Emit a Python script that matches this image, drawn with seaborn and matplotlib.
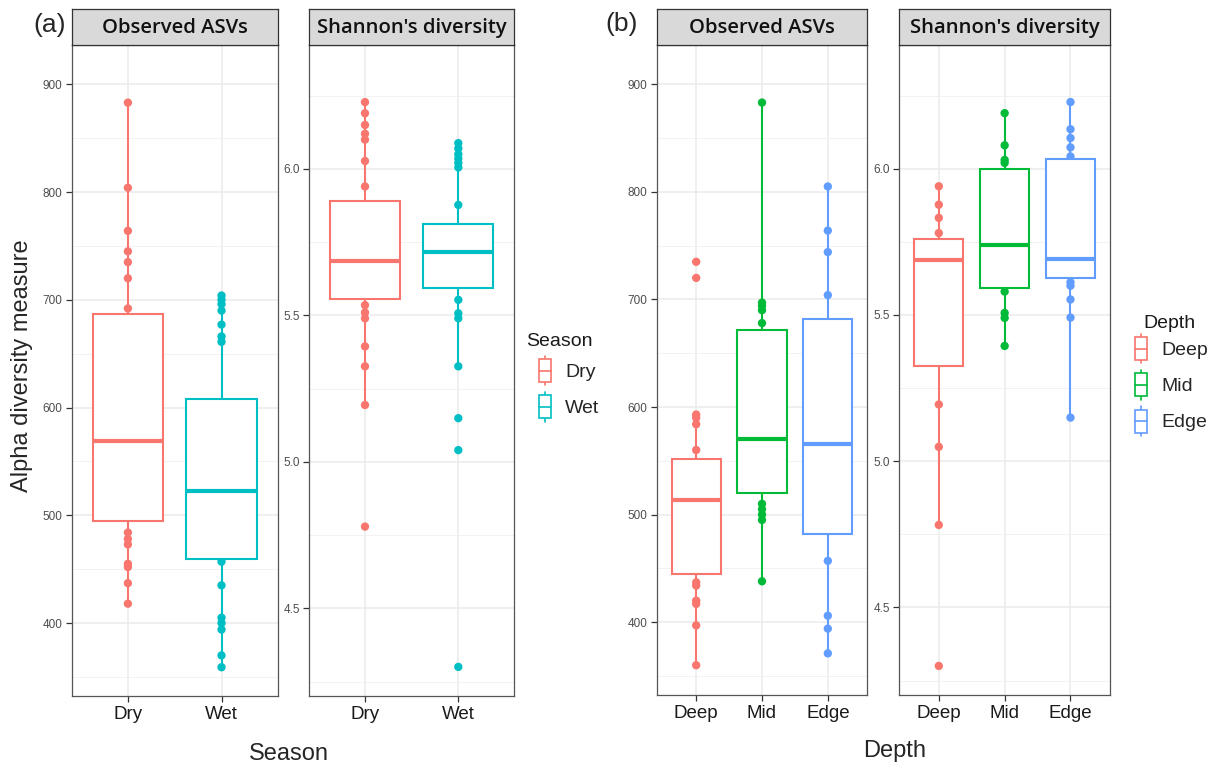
import matplotlib
matplotlib.use("Agg")
import numpy as np
import pandas as pd
import seaborn as sns
import matplotlib.pyplot as plt
from matplotlib import font_manager as fm
from matplotlib.legend_handler import HandlerBase
from matplotlib.patches import Rectangle, Patch
from matplotlib.lines import Line2D
from matplotlib.ticker import FixedLocator, FormatStrFormatter

# ---------------- data ----------------
season_levels = ["Dry", "Wet"]
depth_levels = ["Deep", "Mid", "Edge"]

observed_dry = [418, 437, 452, 455, 473, 478, 484, 506, 512, 523, 536, 548, 560, 569,
                578, 596, 615, 641, 663, 682, 692, 720, 735, 745, 764, 804, 883]
observed_wet = [359, 370, 394, 400, 405, 435, 457, 461, 472, 486, 497, 508, 517, 523,
                528, 534, 540, 545, 550, 555, 661, 666, 677, 690, 696, 700, 704]
shannon_dry = [4.779, 5.194, 5.326, 5.394, 5.49, 5.51, 5.535, 5.577, 5.59, 5.61, 5.63,
               5.65, 5.67, 5.687, 5.70, 5.72, 5.75, 5.78, 5.81, 5.842, 5.94, 6.027,
               6.10, 6.12, 6.15, 6.19, 6.228]
shannon_wet = [4.30, 5.04, 5.149, 5.326, 5.49, 5.507, 5.553, 5.637, 5.65, 5.665, 5.68,
               5.69, 5.705, 5.716, 5.72, 5.725, 5.73, 5.735, 5.74, 5.745, 5.877, 6.005,
               6.02, 6.035, 6.05, 6.07, 6.088]

observed_deep = [360, 397, 417, 420, 434, 437, 453, 465, 480, 493, 505, 514, 520, 527,
                 533, 539, 544, 560, 584, 590, 593, 720, 735]
observed_mid = [438, 495, 500, 505, 510, 530, 540, 552, 562, 570, 590, 615, 640, 666,
                678, 690, 694, 697, 883]
observed_edge = [371, 394, 406, 457, 506, 525, 548, 566, 600, 632, 660, 704, 744, 764, 805]
shannon_deep = [4.30, 4.782, 5.049, 5.194, 5.458, 5.55, 5.64, 5.689, 5.70, 5.72, 5.74,
                5.78, 5.832, 5.877, 5.94]
shannon_mid = [5.394, 5.49, 5.507, 5.58, 5.606, 5.65, 5.70, 5.738, 5.80, 5.90, 5.98,
               6.02, 6.03, 6.08, 6.19]
shannon_edge = [5.149, 5.491, 5.553, 5.60, 5.612, 5.642, 5.655, 5.668, 5.68, 5.691, 5.76,
                5.85, 5.94, 6.024, 6.042, 6.073, 6.105, 6.135, 6.228]

season_colors = ["#F8766D", "#00BFC4"]
depth_colors = ["#F8766D", "#00BA38", "#619CFF"]

observed_ticks = [400, 500, 600, 700, 800, 900]
observed_minor = [350, 450, 550, 650, 750, 850]
shannon_ticks = [4.5, 5.0, 5.5, 6.0]
shannon_minor = [4.25, 4.75, 5.25, 5.75, 6.25]

# ---------------- style ----------------
sns.set_style("white")
installed = {f.name for f in fm.fontManager.ttflist}
SANS = "Liberation Sans" if "Liberation Sans" in installed else "DejaVu Sans"
if "Liberation Sans Narrow" in installed:
    NARROW, XT_SIZE, YT_SIZE = "Liberation Sans Narrow", 15, 9.5
else:
    NARROW, XT_SIZE, YT_SIZE = SANS, 13.5, 8.5
STRIP = "Open Sans" if "Open Sans" in installed else SANS
plt.rcParams["font.family"] = [SANS, "DejaVu Sans"]

W, H = 1222, 764
fig = plt.figure(figsize=(W / 100, H / 100), dpi=100)
fig.patch.set_facecolor("white")


def rect(x0, x1, ytop, ybot):
    return [x0 / W, 1 - ybot / H, (x1 - x0) / W, (ybot - ytop) / H]


def draw_facet(ax, groups, levels, colors, ylim, major, minor, fmt):
    df = pd.DataFrame([(lvl, v) for lvl in levels for v in groups[lvl]],
                      columns=["group", "value"])
    pal = dict(zip(levels, colors))
    sns.boxplot(data=df, x="group", y="value", hue="group", order=levels,
                hue_order=levels, palette=pal, saturation=1, width=0.75, whis=1.5,
                showfliers=False, showcaps=False, linewidth=1.5, legend=False, ax=ax,
                medianprops={"linewidth": 3.0})
    for patch in ax.patches:
        fc = patch.get_facecolor()
        patch.set_edgecolor(fc)
        patch.set_facecolor("white")
        patch.set_linewidth(1.5)
        patch.set_zorder(3)
    for line in ax.lines:
        xd = np.asarray(line.get_xdata(), dtype=float)
        idx = int(round(xd.mean()))
        line.set_color(colors[idx])
        line.set_zorder(4)
    sns.stripplot(data=df, x="group", y="value", hue="group", order=levels,
                  hue_order=levels, palette=pal, jitter=False, size=6, linewidth=0,
                  legend=False, ax=ax)
    for coll in ax.collections:
        coll.set_zorder(2)

    ax.set_xlim(-0.6, len(levels) - 0.4)
    ax.set_ylim(*ylim)
    ax.yaxis.set_major_locator(FixedLocator(major))
    ax.yaxis.set_minor_locator(FixedLocator(minor))
    ax.yaxis.set_major_formatter(FormatStrFormatter(fmt))
    ax.set_xlabel("")
    ax.set_ylabel("")
    ax.set_facecolor("white")
    ax.set_axisbelow(True)
    ax.grid(True, which="major", color="#EBEBEB", linewidth=1.1)
    ax.grid(True, which="minor", axis="y", color="#F2F2F2", linewidth=0.7)
    for sp in ax.spines.values():
        sp.set_visible(True)
        sp.set_color("#555555")
        sp.set_linewidth(0.9)
    ax.tick_params(axis="y", which="major", left=True, length=4.5, width=0.9,
                   color="#333333", labelsize=YT_SIZE, labelcolor="#4D4D4D", pad=2)
    ax.tick_params(axis="x", which="major", bottom=True, length=4.5, width=0.9,
                   color="#333333", labelsize=XT_SIZE, labelcolor="#1A1A1A", pad=3)
    ax.tick_params(which="minor", length=0)
    for lab in ax.get_xticklabels() + ax.get_yticklabels():
        lab.set_fontfamily(NARROW)


def add_strip(x0, x1, label):
    s = fig.add_axes(rect(x0, x1, 9, 45))
    s.set_facecolor("#D9D9D9")
    s.set_xticks([])
    s.set_yticks([])
    for sp in s.spines.values():
        sp.set_color("#333333")
        sp.set_linewidth(0.9)
    s.text(0.5, 0.48, label, ha="center", va="center", fontsize=14.6,
           fontweight="semibold", family=[STRIP, "DejaVu Sans"], color="#111111",
           transform=s.transAxes)


class BoxKey(HandlerBase):
    """Small boxplot glyph used as the legend key."""

    def create_artists(self, legend, orig_handle, xdescent, ydescent, width, height,
                       fontsize, trans):
        c = orig_handle.get_edgecolor()
        x0, y0 = -xdescent, -ydescent
        cx = x0 + width / 2
        bw = width
        bot, top = y0 + height * 0.11, y0 + height * 0.89
        box = Rectangle((cx - bw / 2, bot), bw, top - bot, facecolor="white",
                        edgecolor=c, lw=1.2, transform=trans)
        med = Line2D([cx - bw / 2, cx + bw / 2], [(bot + top) / 2] * 2, color=c, lw=1.2,
                     transform=trans)
        w1 = Line2D([cx, cx], [y0, bot], color=c, lw=1.2, transform=trans)
        w2 = Line2D([cx, cx], [top, y0 + height], color=c, lw=1.2, transform=trans)
        return [w1, w2, box, med]


def add_legend(title, levels, colors, title_x, title_base, key_x, key_top):
    fig.text(title_x / W, 1 - title_base / H, title, ha="left", va="baseline",
             fontsize=14, color="#1A1A1A")
    handles = [Patch(edgecolor=c, facecolor="white") for c in colors]
    fig.legend(handles, levels, loc="upper left",
               bbox_to_anchor=(key_x / W, 1 - key_top / H), frameon=False, fontsize=14,
               handlelength=0.62, handleheight=1.95, handletextpad=0.72,
               labelspacing=0.35, borderpad=0, borderaxespad=0,
               handler_map={Patch: BoxKey()})


obs_lim = (332.3, 936.5)
sha_lim = (4.2006, 6.423)

# (a) grouped by season
ax_a1 = fig.add_axes(rect(71.7, 277.7, 45, 696))
draw_facet(ax_a1, {"Dry": observed_dry, "Wet": observed_wet}, season_levels,
           season_colors, obs_lim, observed_ticks, observed_minor, "%d")
ax_a2 = fig.add_axes(rect(309, 514.3, 45, 696))
draw_facet(ax_a2, {"Dry": shannon_dry, "Wet": shannon_wet}, season_levels,
           season_colors, sha_lim, shannon_ticks, shannon_minor, "%.1f")
add_strip(71.7, 277.7, "Observed ASVs")
add_strip(309, 514.3, "Shannon's diversity")

# (b) grouped by depth
ax_b1 = fig.add_axes(rect(656.7, 867.3, 45, 695))
draw_facet(ax_b1, {"Deep": observed_deep, "Mid": observed_mid, "Edge": observed_edge},
           depth_levels, depth_colors, obs_lim, observed_ticks, observed_minor, "%d")
ax_b2 = fig.add_axes(rect(899.3, 1110, 45, 695))
draw_facet(ax_b2, {"Deep": shannon_deep, "Mid": shannon_mid, "Edge": shannon_edge},
           depth_levels, depth_colors, sha_lim, shannon_ticks, shannon_minor, "%.1f")
add_strip(656.7, 867.3, "Observed ASVs")
add_strip(899.3, 1110, "Shannon's diversity")

add_legend("Season", season_levels, season_colors, 526.5, 346, 539, 356)
add_legend("Depth", depth_levels, depth_colors, 1143.5, 328, 1135, 334)

fig.text(50 / W, 1 - 25 / H, "(a)", ha="center", va="center", fontsize=19)
fig.text(622 / W, 1 - 24 / H, "(b)", ha="center", va="center", fontsize=19)
fig.text(22 / W, 1 - 366 / H, "Alpha diversity measure", rotation=90, ha="center",
         va="center", fontsize=17)
fig.text(289 / W, 1 - 760 / H, "Season", ha="center", va="baseline", fontsize=17)
fig.text(895 / W, 1 - 757 / H, "Depth", ha="center", va="baseline", fontsize=17)

fig.savefig("out.png", dpi=100, facecolor="white")
